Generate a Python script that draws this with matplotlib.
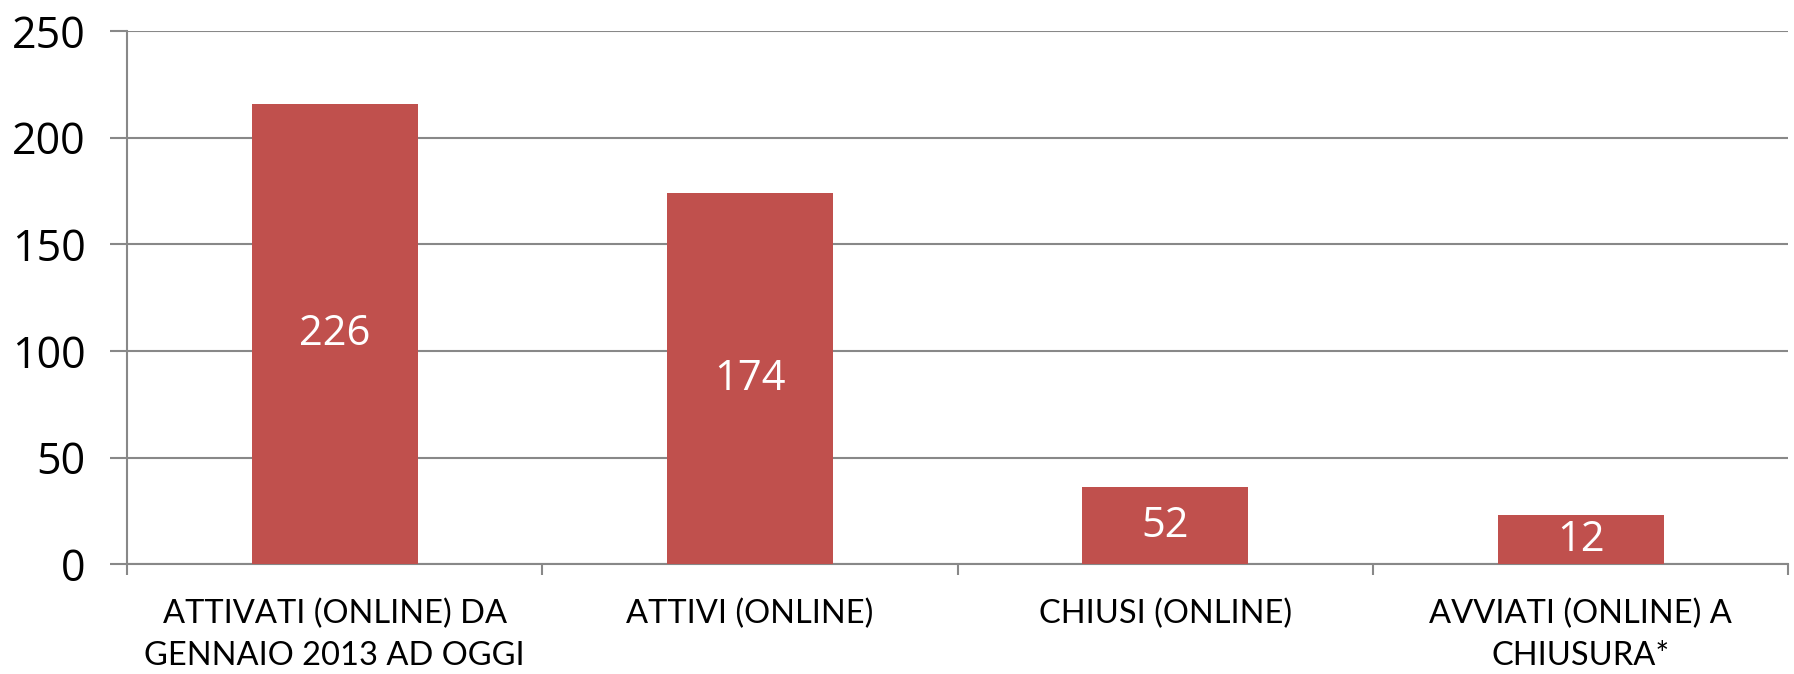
import numpy as np
import matplotlib.pyplot as plt
from matplotlib.ticker import FixedLocator

categories = ['ATTIVATI (ONLINE) DA\nGENNAIO 2013 AD OGGI', 'ATTIVI (ONLINE)',
              'CHIUSI (ONLINE)', 'AVVIATI (ONLINE) A\nCHIUSURA*']
bar_heights = [216, 174, 36, 23]
bar_labels = ['226', '174', '52', '12']
y_ticks = [0, 50, 100, 150, 200, 250]

plt.rcParams['font.family'] = ['Open Sans', 'DejaVu Sans']

fig = plt.figure(figsize=(17.94, 6.74), dpi=100)
ax = fig.add_axes([0.0708, 0.163, 0.926, 0.791])

x = np.arange(len(categories))
bars = ax.bar(x, bar_heights, width=0.4, color='#C0504D', zorder=3)
ax.bar_label(bars, labels=bar_labels, label_type='center', color='white',
             fontsize=30, family='Open Sans')

ax.set_xlim(-0.5, len(categories) - 0.5)
ax.set_ylim(0, 250)
ax.set_yticks(y_ticks)
ax.tick_params(axis='y', labelsize=31, length=12, width=1.5, color='#888888', pad=18)
ax.yaxis.grid(True, color='#888888', linewidth=1.5, zorder=0)

ax.set_xticks(np.arange(-0.5, len(categories)))
ax.set_xticklabels([])
ax.tick_params(axis='x', which='major', length=8, width=1.5, color='#888888')
ax.xaxis.set_minor_locator(FixedLocator(x))
ax.set_xticklabels(categories, minor=True, fontsize=23.5, family='Lato',
                   linespacing=1.5)
ax.tick_params(axis='x', which='minor', length=0, pad=25)

for side in ['top', 'right']:
    ax.spines[side].set_visible(False)
for side in ['left', 'bottom']:
    ax.spines[side].set_color('#888888')
    ax.spines[side].set_linewidth(1.5)

plt.savefig('out.png')
